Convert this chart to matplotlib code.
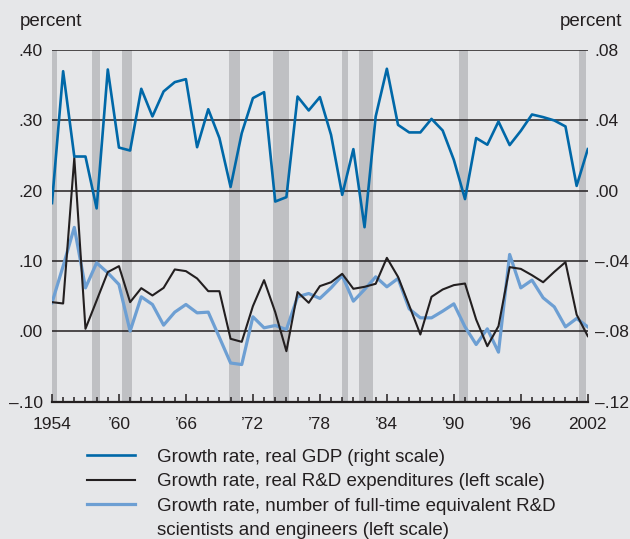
import numpy as np
import matplotlib
matplotlib.use("Agg")
import matplotlib.pyplot as plt
from matplotlib.lines import Line2D
from matplotlib.ticker import FixedLocator, MultipleLocator, FuncFormatter

plt.rcParams['font.family'] = ['Liberation Sans', 'DejaVu Sans']

years = list(range(1954, 2003))

# real GDP growth (right scale)
gdp = [-0.007, 0.068, 0.0195, 0.0195, -0.010, 0.069, 0.0246, 0.0229, 0.058, 0.0423,
       0.0565, 0.0618, 0.0635, 0.0248, 0.0464, 0.030, 0.0022, 0.0328, 0.0527, 0.0561,
       -0.0061, -0.0036, 0.0536, 0.0457, 0.0533, 0.0318, -0.0023, 0.0237, -0.0207, 0.0423,
       0.0694, 0.0375, 0.0332, 0.0332, 0.0409, 0.0343, 0.0176, -0.0047, 0.030, 0.0262,
       0.0394, 0.026, 0.0341, 0.0434, 0.0419, 0.040, 0.0366, 0.0028, 0.0237]

# real R&D expenditures growth (left scale)
rnd = [0.0417, 0.0398, 0.247, 0.0038, 0.044, 0.0844, 0.0929, 0.0417, 0.0616, 0.0512,
       0.062, 0.0882, 0.0858, 0.0754, 0.0573, 0.0573, -0.0104, -0.0147, 0.036, 0.073,
       0.0275, -0.028, 0.056, 0.0408, 0.0645, 0.070, 0.082, 0.0607, 0.0635, 0.0678,
       0.1047, 0.0777, 0.037, -0.0043, 0.0493, 0.0597, 0.0659, 0.0682, 0.017, -0.0209,
       0.0076, 0.0915, 0.089, 0.080, 0.070, 0.0848, 0.0986, 0.024, -0.0066]

# FTE R&D scientists and engineers growth (left scale)
sci = [0.0408, 0.093, 0.148, 0.062, 0.0976, 0.0834, 0.0668, 0.0005, 0.0493, 0.0384,
       0.009, 0.0275, 0.0384, 0.0265, 0.0275, -0.0085, -0.0448, -0.047, 0.0209, 0.0052,
       0.0085, 0.0028, 0.0493, 0.054, 0.047, 0.062, 0.0796, 0.0431, 0.0597, 0.0777,
       0.0635, 0.0754, 0.0322, 0.0194, 0.0194, 0.0289, 0.0393, 0.0066, -0.0185, 0.0038,
       -0.0294, 0.1095, 0.062, 0.073, 0.0479, 0.035, 0.0066, 0.0185, 0.0066]

# recessions (shaded)
rec_start = [1953.5, 1957.62, 1960.3, 1969.88, 1973.8, 1979.98, 1981.5, 1990.5, 2001.17]
rec_end = [1954.45, 1958.27, 1961.2, 1970.87, 1975.25, 1980.55, 1982.8, 1991.25, 2001.85]

left_ticks = [-0.10, 0.00, 0.10, 0.20, 0.30, 0.40]
right_ticks = [-0.12, -0.08, -0.04, 0.00, 0.04, 0.08]
year_ticks = [1954, 1960, 1966, 1972, 1978, 1984, 1990, 1996, 2002]
year_labels = ['1954', '\u201960', '\u201966', '\u201972', '\u201978', '\u201984',
               '\u201990', '\u201996', '2002']

bg = '#e6e7e9'
ink = '#231f20'
fs = 13.5


def fmt(v, pos):
    s = '%.2f' % v
    if s.startswith('-'):
        s = '\u2013' + s[2:]
    else:
        s = s[1:]
    return s


fig = plt.figure(figsize=(6.3, 5.39), dpi=100, facecolor=bg)
ax = fig.add_axes([0.0825, 0.2545, 0.8505, 0.6525])
ax.set_facecolor(bg)

for a, b in zip(rec_start, rec_end):
    ax.axvspan(a, b, color='#bfc0c3', lw=0, zorder=0)

for t in left_ticks[1:]:
    ax.axhline(t, color=ink, lw=1.1, zorder=1)

l2, = ax.plot(years, rnd, color=ink, lw=1.5, zorder=3,
              label='Growth rate, real R&D expenditures (left scale)')
l3, = ax.plot(years, sci, color='#6d9fd3', lw=2.3, zorder=2,
              label='Growth rate, number of full-time equivalent R&D')

ax.set_xlim(1954, 2002)
ax.set_ylim(-0.10, 0.40)
ax.yaxis.set_major_locator(FixedLocator(left_ticks))
ax.yaxis.set_major_formatter(FuncFormatter(fmt))
ax.xaxis.set_major_locator(FixedLocator(year_ticks))
ax.set_xticklabels(year_labels)
ax.xaxis.set_minor_locator(MultipleLocator(1))
ax.tick_params(axis='x', which='major', direction='in', length=6, width=1.1,
               color=ink, labelsize=12.5, pad=11, labelcolor=ink)
ax.tick_params(axis='x', which='minor', direction='in', length=3.6, width=1.1, color=ink)
ax.tick_params(axis='y', length=0, labelsize=12.5, pad=6.5, labelcolor=ink)
for s in ['top', 'right', 'left']:
    ax.spines[s].set_visible(False)
ax.spines['bottom'].set_linewidth(1.6)
ax.spines['bottom'].set_color(ink)

ax2 = ax.twinx()
l1, = ax2.plot(years, gdp, color='#0068a8', lw=1.9, zorder=4,
               label='Growth rate, real GDP (right scale)')
ax2.set_ylim(-0.12, 0.08)
ax2.yaxis.set_major_locator(FixedLocator(right_ticks))
ax2.yaxis.set_major_formatter(FuncFormatter(fmt))
ax2.tick_params(axis='y', length=0, labelsize=12.5, pad=5, labelcolor=ink)
for s in ['top', 'right', 'left', 'bottom']:
    ax2.spines[s].set_visible(False)

fig.text(0.032, 0.96, 'percent', fontsize=fs, color=ink, va='center')
fig.text(0.988, 0.96, 'percent', fontsize=fs, color=ink, va='center', ha='right')

# second line of the last label as its own row with an empty key
blank = Line2D([], [], color='none', label='scientists and engineers (left scale)')
fig.legend(handles=[l1, l2, l3, blank], loc='upper left', bbox_to_anchor=(0.138, 0.168),
           frameon=False, fontsize=fs, handlelength=2.56, handletextpad=1.17,
           labelspacing=0.4, borderaxespad=0, borderpad=0, labelcolor=ink)

fig.savefig('out.png', dpi=100, facecolor=bg)
